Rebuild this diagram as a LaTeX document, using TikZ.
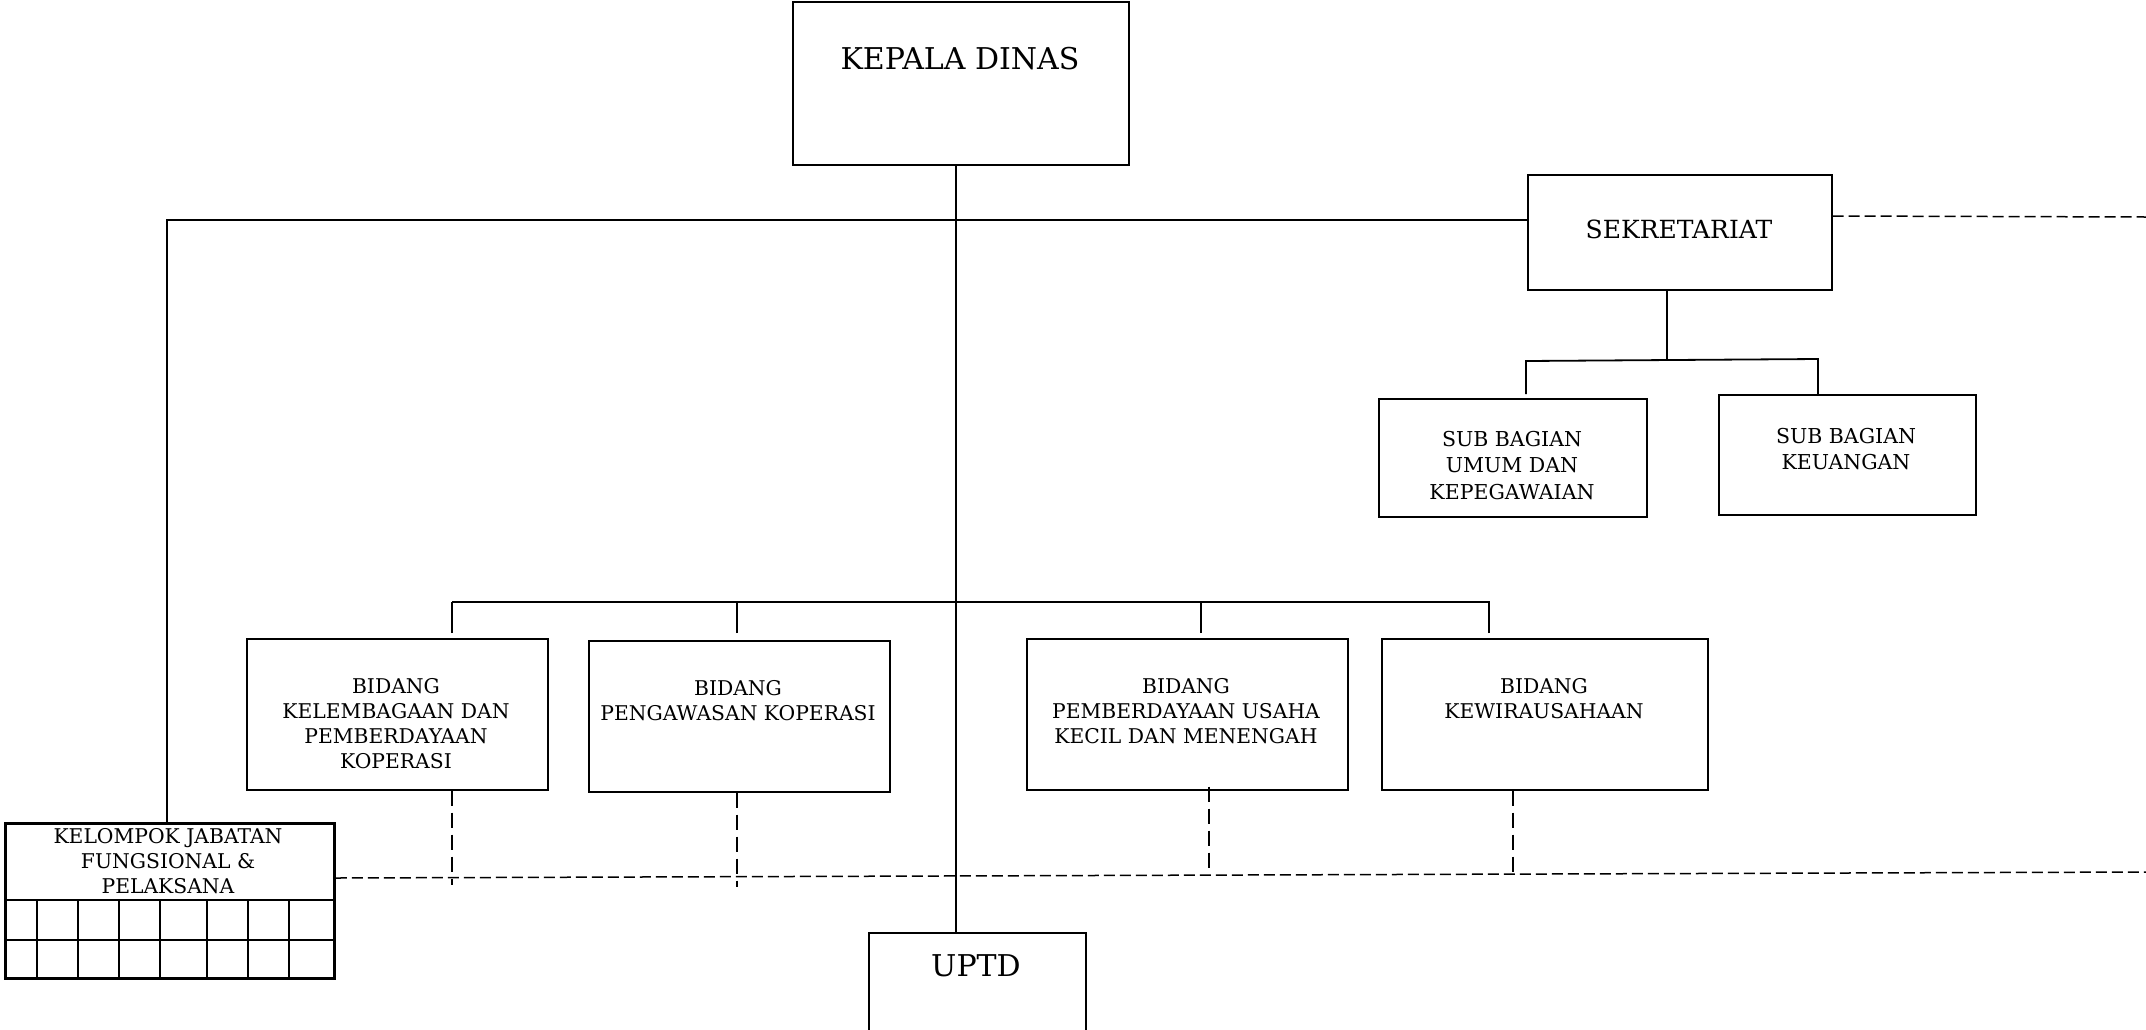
\documentclass[tikz,border=0pt]{standalone}
\usepackage{fontspec}
\setmainfont{DejaVu Serif}
\begin{document}
\begin{tikzpicture}[x=1pt,y=-1pt,
  box/.style={draw=black, line width=1.5pt, inner sep=0pt, anchor=north west},
  lbl/.style={anchor=north, inner sep=0pt, align=center},
  conn/.style={line width=1.3pt},
  mainline/.style={line width=1.8pt},
  dline/.style={line width=1.5pt, dash pattern=on 11pt off 5pt},
  vdline/.style={line width=1.3pt, dash pattern=on 15pt off 7pt},
  big/.style={font=\fontsize{30}{36}\selectfont},
  mid/.style={font=\fontsize{25}{30}\selectfont},
  sub/.style={font=\fontsize{20.5}{26.5}\selectfont},
  small/.style={font=\fontsize{20.3}{25.2}\selectfont}
]
\useasboundingbox (0,0) rectangle (2146,1029);
\clip (0,0) rectangle (2146,1029);

% boxes
\node[box, minimum width=336pt, minimum height=163pt] (kd) at (792,1) {};
\node[lbl, big] (kdt) at (960,47) {KEPALA DINAS};

\node[box, minimum width=304pt, minimum height=115pt] (sek) at (1527,174) {};
\node[lbl, mid] (sekt) at (1679,220) {SEKRETARIAT};

\node[box, line width=2pt, minimum width=268pt, minimum height=118pt] (umum) at (1378,398) {};
\node[lbl, sub] (umumt) at (1512,431) {SUB BAGIAN\\UMUM DAN\\KEPEGAWAIAN};

\node[box, line width=2pt, minimum width=257pt, minimum height=120pt] (keu) at (1718,394) {};
\node[lbl, sub] (keut) at (1846,428) {SUB BAGIAN\\KEUANGAN};

\node[box, minimum width=301pt, minimum height=151pt] (b1) at (246,638) {};
\node[lbl, small] (b1t) at (396,678) {BIDANG\\KELEMBAGAAN DAN\\PEMBERDAYAAN\\KOPERASI};

\node[box, minimum width=301pt, minimum height=151pt] (b2) at (588,640) {};
\node[lbl, small] (b2t) at (738,680) {BIDANG\\PENGAWASAN KOPERASI};

\node[box, minimum width=321pt, minimum height=151pt] (b3) at (1026,638) {};
\node[lbl, small] (b3t) at (1186,678) {BIDANG\\PEMBERDAYAAN USAHA\\KECIL DAN MENENGAH};

\node[box, minimum width=326pt, minimum height=151pt] (b4) at (1381,638) {};
\node[lbl, small] (b4t) at (1544,678) {BIDANG\\KEWIRAUSAHAAN};

\node[box, line width=2.8pt, minimum width=329pt, minimum height=155pt] (klp) at (4,822) {};
\node[lbl, small] (klpt) at (168,828) {KELOMPOK JABATAN\\FUNGSIONAL \&\\PELAKSANA};
\draw[line width=2.8pt] (klp.west |- 0,900) -- (klp.east |- 0,900);
\draw[line width=2.8pt] (klp.west |- 0,940) -- (klp.east |- 0,940);
\foreach \cx in {37,78,119,160,207,248,289} {
  \draw[line width=2.8pt] (\cx,900) -- (\cx,977);
}

\node[box, minimum width=217pt, minimum height=140pt] (uptd) at (868,932) {};
\node[lbl, big] (uptdt) at (976,954) {UPTD};

% connector coordinates
\coordinate (mx) at (956,0);
\coordinate (lx) at (167,220);
\coordinate (sx) at (1667,360);
\coordinate (sbl) at (1526,361);
\coordinate (sbr) at (1818,359);
\coordinate (bbl) at (452,602);
\coordinate (bbr) at (1490,602);
\coordinate (d1) at (452,633);
\coordinate (d2) at (737,633);
\coordinate (d3) at (1201,633);
\coordinate (d4) at (1489,633);
\coordinate (sr) at (2146,217);
\coordinate (br) at (2146,872);
\coordinate (v1) at (452,885);
\coordinate (v2) at (737,887);
\coordinate (v3) at (1209,875);
\coordinate (v4) at (1513,877);

% solid connectors
\draw[mainline] (mx |- kd.south) -- (mx |- uptd.north);
\draw[mainline] (sek.west |- lx) -- (lx) -- (lx |- klp.north);
\draw[conn] (sx |- sek.south) -- (sx);
\draw[line width=1.8pt] (sbl |- umum.north) ++(0,-4) -- (sbl) -- (sbr) -- (sbr |- keu.north);
\draw[conn] (bbl) -- (bbr);
\draw[conn] (d1) -- (d1 |- bbl);
\draw[conn] (d2) -- (d2 |- bbl);
\draw[conn] (d3) -- (d3 |- bbl);
\draw[conn] (d4) -- (d4 |- bbl);

% dashed connectors
\draw[dline] (sek.east |- 0,216) -- (sr);
\draw[dline] (klp.east |- 0,878) -- (br);
\draw[vdline] (v1 |- b1.south) -- (v1);
\draw[vdline] (v2 |- b2.south) -- (v2);
\draw[vdline] (v3 |- b3.south) ++(0,-4) -- (v3);
\draw[vdline] (v4 |- b4.south) -- (v4);
\end{tikzpicture}
\end{document}
